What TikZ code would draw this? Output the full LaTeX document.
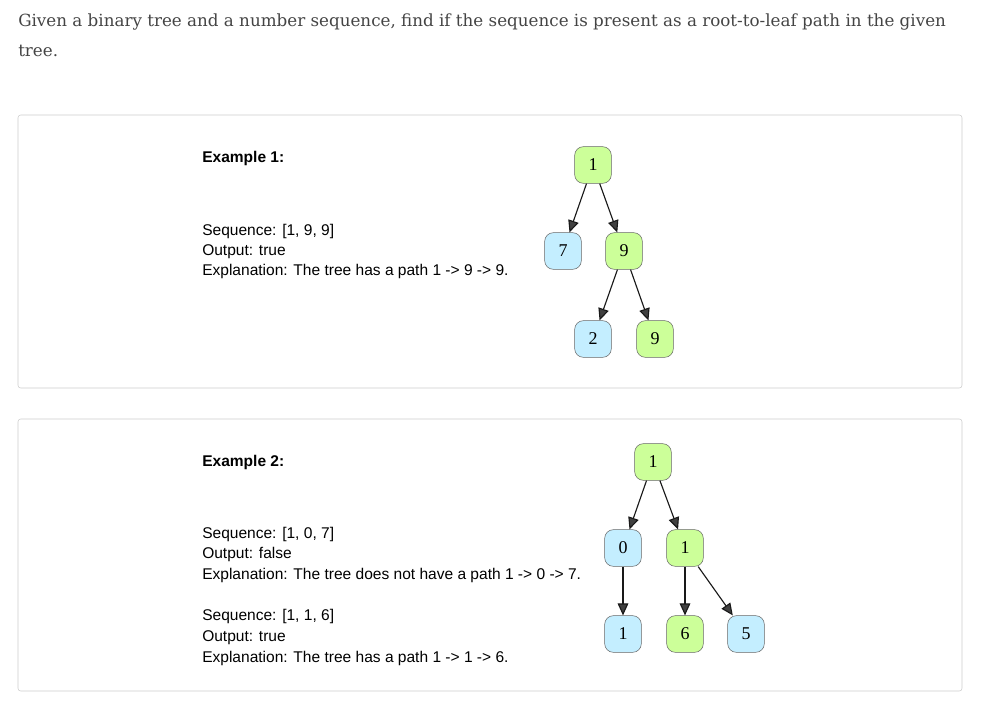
\documentclass[tikz,border=0pt]{standalone}
\usepackage{fontspec}
\setmainfont{Liberation Sans}
\newfontfamily\titlefont{DejaVu Serif}
\newfontfamily\keyfont{Liberation Serif}
\usetikzlibrary{positioning,arrows.meta}
\definecolor{hit}{HTML}{CCFF99}
\definecolor{miss}{HTML}{C4EEFF}
\definecolor{frame}{HTML}{CCCCCC}
\definecolor{prose}{HTML}{444444}
\tikzstyle{tnode}=[draw=black!60, rounded corners=6.5pt, minimum size=27.5pt, inner sep=0pt, font=\keyfont\fontsize{13.5pt}{15pt}\selectfont]
\tikzstyle{onpath}=[tnode, fill=hit]
\tikzstyle{offpath}=[tnode, fill=miss]
\tikzstyle{line}=[anchor=base west, inner sep=0pt, font=\fontsize{11.65pt}{13pt}\selectfont]
\tikzstyle{card}=[draw=frame, rounded corners=2pt]
\tikzstyle{link}=[-{Triangle[length=9pt,width=8pt,fill=black!75]}, black!90, line width=0.85pt]

\begin{document}
\begin{tikzpicture}[x=0.75pt, y=-0.75pt]
	\useasboundingbox (0,0) rectangle (1000,715);
	% problem statement
	\node[line, text=prose, font=\titlefont\fontsize{12.55pt}{14pt}\selectfont] (stmt) at (18,26) {Given a binary tree and a number sequence, find if the sequence is present as a root-to-leaf path in the given};
	\node[line, text=prose, font=\titlefont\fontsize{12.55pt}{14pt}\selectfont] (stmt2) at (18,56) {tree.};
	% example cards
	\draw[card] (18,115) rectangle (962,388);
	\draw[card] (18,419) rectangle (962,691);
	% example 1 text
	\node[line, font=\bfseries\fontsize{11.65pt}{13pt}\selectfont] (ex1) at (202,162) {Example 1:};
	\node[line] (seq1) at (202,235) {Sequence: [1, 9, 9]};
	\node[line] (out1) at (202,255) {Output: true};
	\node[line] (exp1) at (202,275) {Explanation: The tree has a path 1 -> 9 -> 9.};
	% example 1 tree
	\node[onpath] (a1) at (593,165) {1};
	\node[offpath] (a7) at (563,251) {7};
	\node[onpath] (a9) at (624,251) {9};
	\node[offpath] (a2) at (593,339) {2};
	\node[onpath] (a9b) at (655,339) {9};
	\draw[link] (a1) -- (a7);
	\draw[link] (a1) -- (a9);
	\draw[link] (a9) -- (a2);
	\draw[link] (a9) -- (a9b);
	% example 2 text
	\node[line, font=\bfseries\fontsize{11.65pt}{13pt}\selectfont] (ex2) at (202,466) {Example 2:};
	\node[line] (seq2) at (202,538) {Sequence: [1, 0, 7]};
	\node[line] (out2) at (202,558) {Output: false};
	\node[line] (exp2) at (202,579) {Explanation: The tree does not have a path 1 -> 0 -> 7.};
	\node[line] (seq3) at (202,620) {Sequence: [1, 1, 6]};
	\node[line] (out3) at (202,641) {Output: true};
	\node[line] (exp3) at (202,662) {Explanation: The tree has a path 1 -> 1 -> 6.};
	% example 2 tree
	\node[onpath] (b1) at (653,462) {1};
	\node[offpath] (b0) at (623,548) {0};
	\node[onpath] (b1r) at (685,548) {1};
	\node[offpath] (b1l) at (623,634) {1};
	\node[onpath] (b6) at (685,634) {6};
	\node[offpath] (b5) at (746,634) {5};
	\draw[link] (b1) -- (b0);
	\draw[link] (b1) -- (b1r);
	\draw[link] (b0) -- (b1l);
	\draw[link] (b1r) -- (b6);
	\draw[link] (b1r) -- (b5);
\end{tikzpicture}
\end{document}
